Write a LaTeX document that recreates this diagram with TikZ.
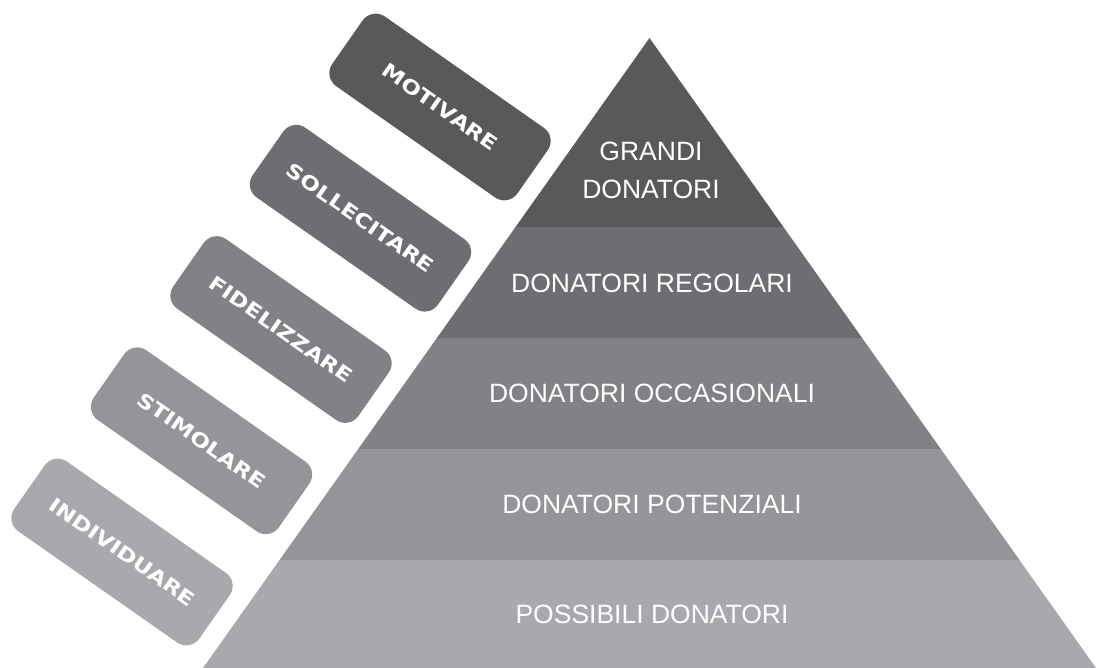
\documentclass[tikz,border=0pt]{standalone}
\usepackage{fontspec}
\setmainfont{Liberation Sans}
\newfontfamily\boxfont{DejaVu Sans Bold}[FakeStretch=1.2]
\definecolor{c1}{HTML}{58595B}
\definecolor{c2}{HTML}{6D6E71}
\definecolor{c3}{HTML}{808285}
\definecolor{c4}{HTML}{939598}
\definecolor{c5}{HTML}{A7A9AC}
\begin{document}
\begin{tikzpicture}[x=1pt,y=-1pt,
  lvl/.style={text=white,font=\fontsize{26.5}{38}\selectfont,align=center,inner sep=0pt},
  tag/.style={rectangle,rounded corners=16pt,minimum width=226pt,minimum height=85pt,
    rotate=-35,text=white,font=\boxfont\fontsize{19.5}{22}\selectfont,inner sep=0pt}]
\useasboundingbox (0,0) rectangle (1096,668);
\coordinate (apex) at (649.5,38);
\coordinate (bl) at (203,668);
\coordinate (br) at (1096,668);
\begin{scope}
\clip (apex) -- (bl) -- (br) -- cycle;
\fill[c1] (0,0) rectangle (1096,227);
\fill[c2] (0,227) rectangle (1096,338);
\fill[c3] (0,338) rectangle (1096,449);
\fill[c4] (0,449) rectangle (1096,560);
\fill[c5] (0,560) rectangle (1096,670);
\end{scope}
\node[lvl] (grandi) at (651,170) {GRANDI\\DONATORI};
\node[lvl] (regolari) at (652,283) {DONATORI REGOLARI};
\node[lvl] (occasionali) at (652,393) {DONATORI OCCASIONALI};
\node[lvl] (potenziali) at (652,504) {DONATORI POTENZIALI};
\node[lvl] (possibili) at (652,614) {POSSIBILI DONATORI};
\node[tag,fill=c1] (motivare) at (440,107) {MOTIVARE};
\node[tag,fill=c2] (sollecitare) at (360.5,218.25) {SOLLECITARE};
\node[tag,fill=c3] (fidelizzare) at (281,329.5) {FIDELIZZARE};
\node[tag,fill=c4] (stimolare) at (201.5,440.75) {STIMOLARE};
\node[tag,fill=c5] (individuare) at (122,552) {INDIVIDUARE};
\end{tikzpicture}
\end{document}
